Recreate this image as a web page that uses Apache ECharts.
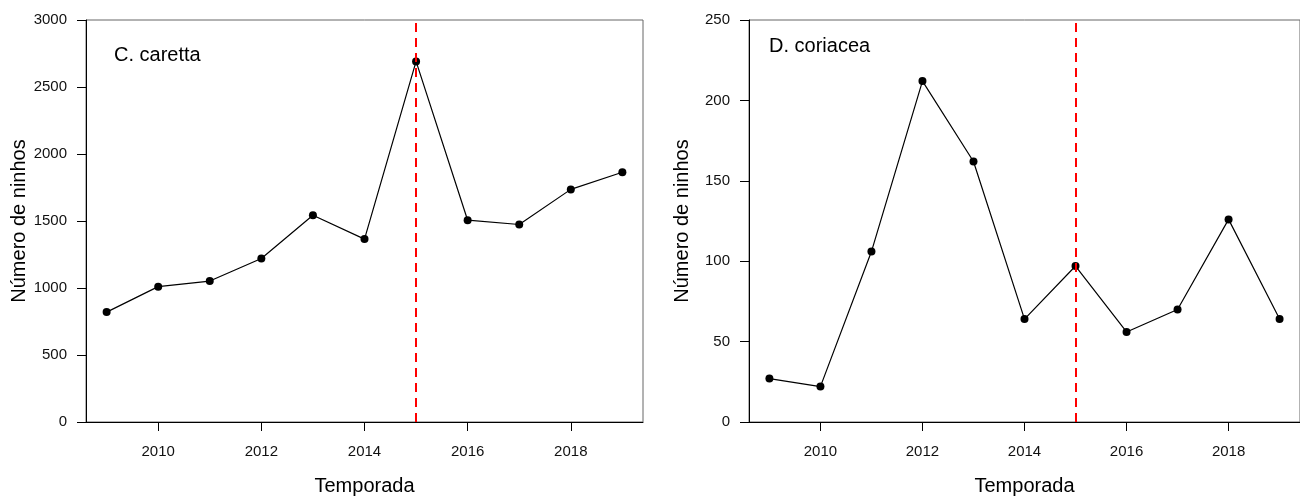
<!DOCTYPE html>
<html>
<head>
<meta charset="utf-8">
<script src="https://cdn.jsdelivr.net/npm/echarts@6/dist/echarts.min.js"></script>
<style>
  html, body { margin: 0; padding: 0; background: #fff; }
  #chart { width: 1300px; height: 501px; }
</style>
</head>
<body>
<div id="chart"></div>
<script>
// Nesting seasons and nest counts for the two species
const years = [2009, 2010, 2011, 2012, 2013, 2014, 2015, 2016, 2017, 2018, 2019];
const carettaNests = [820, 1010, 1052, 1220, 1543, 1365, 2691, 1506, 1474, 1736, 1864];
const coriaceaNests = [27, 22, 106, 212, 162, 64, 97, 56, 70, 126, 64];
const xTicks = [2010, 2012, 2014, 2016, 2018];
const markYear = 2015;
const speciesNames = ['C. caretta', 'D. coriacea'];
const xTitle = 'Temporada';
const yTitle = 'Número de ninhos';

const FONT = '"Liberation Sans", Arial, sans-serif';
const plain = v => String(v);

function xAxisDef(gridIndex) {
  return {
    type: 'value', gridIndex, min: 2008.6, max: 2019.4,
    name: xTitle, nameLocation: 'middle', nameGap: 54,
    nameTextStyle: { fontFamily: FONT, fontSize: 20, color: '#000' },
    axisLine: { show: true, lineStyle: { color: '#000', width: 1 } },
    axisTick: { show: true, inside: false, length: 9, customValues: xTicks, lineStyle: { color: '#000' } },
    axisLabel: { customValues: xTicks, formatter: plain, fontFamily: FONT, fontSize: 15, color: '#111', margin: 22 },
    splitLine: { show: false }
  };
}

function yAxisDef(gridIndex, max, interval) {
  return {
    type: 'value', gridIndex, min: 0, max, interval,
    name: yTitle, nameLocation: 'middle', nameGap: 57,
    nameTextStyle: { fontFamily: FONT, fontSize: 20, color: '#000' },
    axisLine: { show: true, lineStyle: { color: '#000', width: 1 } },
    axisTick: { show: true, inside: false, length: 9, lineStyle: { color: '#000' } },
    axisLabel: { formatter: plain, fontFamily: FONT, fontSize: 15, color: '#111', margin: 19 },
    splitLine: { show: false }
  };
}

function seriesDef(index, values) {
  return {
    type: 'line', xAxisIndex: index, yAxisIndex: index,
    data: years.map((y, i) => [y, values[i]]),
    symbol: 'circle', symbolSize: 8, showSymbol: true,
    lineStyle: { color: '#000', width: 1.2 },
    itemStyle: { color: '#000' },
    z: 3,
    markLine: {
      silent: true, symbol: 'none', label: { show: false },
      lineStyle: { color: '#ff0000', width: 2, type: [9, 6] },
      data: [{ xAxis: markYear }],
      z: 4
    }
  };
}

const chart = echarts.init(document.getElementById('chart'), null, { renderer: 'canvas' });
chart.setOption({
  animation: false,
  backgroundColor: '#fff',
  title: [
    { text: speciesNames[0], left: 114, top: 45, padding: 0,
      textStyle: { fontFamily: FONT, fontSize: 20, fontWeight: 'normal', color: '#000' } },
    { text: speciesNames[1], left: 769, top: 36, padding: 0,
      textStyle: { fontFamily: FONT, fontSize: 20, fontWeight: 'normal', color: '#000' } }
  ],
  grid: [
    { left: 86, top: 20, width: 557, height: 405, show: true, borderColor: '#666', borderWidth: 1, backgroundColor: 'transparent' },
    { left: 749, top: 20, width: 560, height: 405, show: true, borderColor: '#666', borderWidth: 1, backgroundColor: 'transparent' }
  ],
  xAxis: [xAxisDef(0), xAxisDef(1)],
  yAxis: [yAxisDef(0, 3000, 500), yAxisDef(1, 250, 50)],
  series: [seriesDef(0, carettaNests), seriesDef(1, coriaceaNests)]
});
</script>
</body>
</html>
